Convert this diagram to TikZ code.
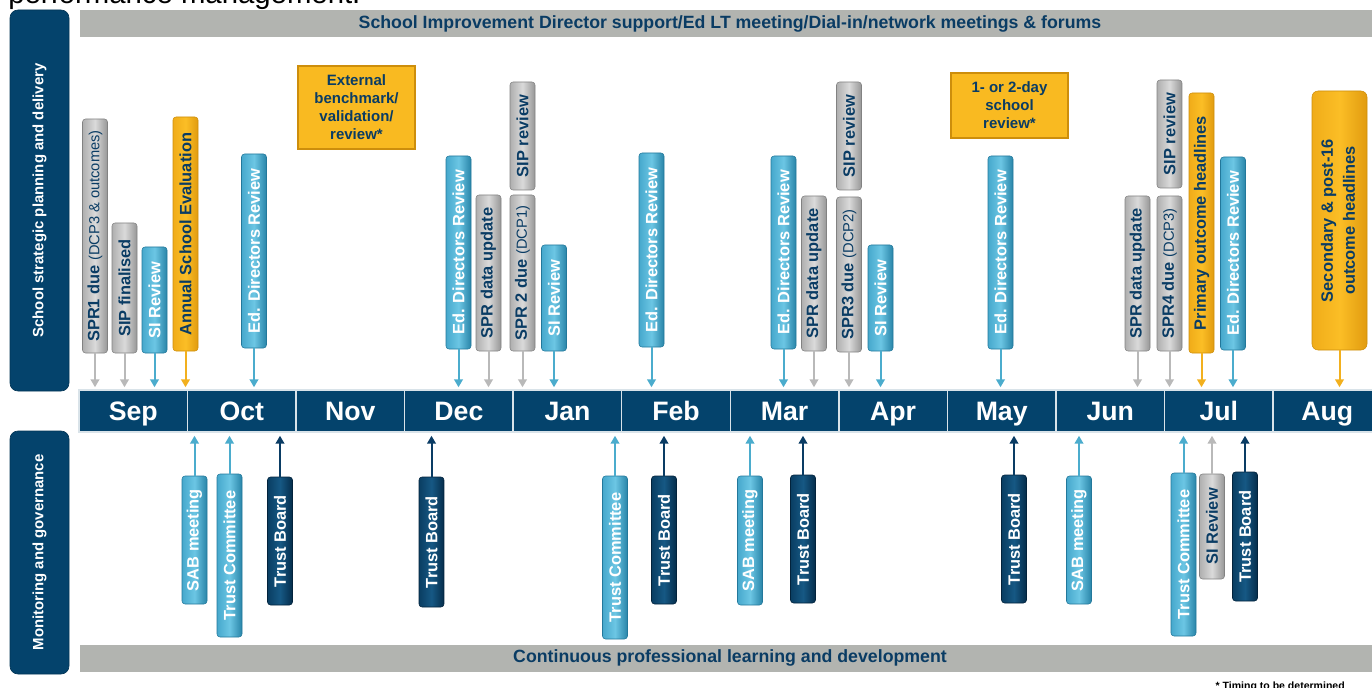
\documentclass[tikz,border=0pt]{standalone}
\usepackage{fontspec}
\setmainfont{Liberation Sans}
\usetikzlibrary{arrows.meta}
\definecolor{navy}{RGB}{4,67,108}
\definecolor{txt}{RGB}{10,60,100}
\definecolor{barg}{RGB}{178,180,176}
\definecolor{gyL}{RGB}{175,175,175}
\definecolor{gyM}{RGB}{218,218,218}
\definecolor{gyR}{RGB}{150,150,150}
\definecolor{gyD}{RGB}{130,130,130}
\definecolor{lbL}{RGB}{70,168,204}
\definecolor{lbM}{RGB}{108,198,228}
\definecolor{lbR}{RGB}{40,132,168}
\definecolor{lbD}{RGB}{35,120,155}
\definecolor{yeL}{RGB}{240,172,25}
\definecolor{yeM}{RGB}{251,190,38}
\definecolor{yeR}{RGB}{225,155,15}
\definecolor{yeD}{RGB}{205,142,12}
\definecolor{yeF}{RGB}{249,186,33}
\definecolor{dkL}{RGB}{10,62,98}
\definecolor{dkM}{RGB}{22,88,132}
\definecolor{dkR}{RGB}{5,45,75}
\definecolor{dkD}{RGB}{3,35,60}
\definecolor{arG}{RGB}{185,185,185}
\definecolor{arB}{RGB}{75,172,205}
\definecolor{arY}{RGB}{242,176,30}
\definecolor{arD}{RGB}{10,60,100}
\tikzset{
  vbox/.style={rectangle, rounded corners=2.25pt, minimum width=18.75pt, inner sep=0pt,
    line width=0.4pt, font=\fontsize{12.3}{14}\selectfont\bfseries},
  greyb/.style={vbox, draw=gyD, left color=gyL, right color=gyR, middle color=gyM, text=txt},
  blueb/.style={vbox, draw=lbD, left color=lbL, right color=lbR, middle color=lbM, text=white},
  yelb/.style={vbox, draw=yeD, left color=yeL, right color=yeR, middle color=yeM, text=txt},
  darkb/.style={vbox, draw=dkD, left color=dkL, right color=dkR, middle color=dkM, text=white},
  yrect/.style={rectangle, draw=yeD, line width=1.5pt, fill=yeF, inner sep=0pt, align=center,
    text=txt, font=\fontsize{11.25}{13.5}\selectfont\bfseries},
  month/.style={rectangle, fill=navy, draw=white!85!navy, line width=1.1pt,
    minimum width=81.41pt, minimum height=31.5pt, inner sep=0pt, text=white,
    text height=14.3pt, text depth=0pt,
    font=\fontsize{20}{24}\selectfont\bfseries},
  panel/.style={rectangle, rounded corners=6pt, fill=navy, draw=navy!80!black, line width=0.5pt,
    minimum width=44.25pt, inner sep=0pt, text=white, font=\fontsize{11.2}{13}\selectfont\bfseries},
  gbar/.style={rectangle, fill=barg, inner sep=0pt, minimum width=975pt, text=txt,
    font=\fontsize{13.3}{16}\selectfont\bfseries},
  arr/.style={line width=1.5pt, -{Triangle[width=6.5pt,length=6pt]}},
  dn/.style={arr, shorten >=1.5pt},
  up/.style={arr, shorten >=2.25pt}
}
\newcommand{\rt}[1]{\rotatebox{90}{#1}}
\newcommand{\smp}{\fontsize{11}{12}\selectfont\mdseries}
\begin{document}
\begin{tikzpicture}[x=0.75pt,y=-0.75pt]
\useasboundingbox (0,0) rectangle (1372,688);

% title fragment and footnote
\node[anchor=base west, inner sep=0pt, font=\fontsize{22}{26}\selectfont] (title) at (8,4) {performance management.};
\node[anchor=base east, inner sep=0pt, font=\fontsize{7.9}{9}\selectfont\bfseries] (foot) at (1345,689.5) {* Timing to be determined};

% grey bars
\node[gbar, minimum height=20.25pt] (topbar) at (730,23.5) {School Improvement Director support/Ed LT meeting/Dial-in/network meetings \& forums};
\node[gbar, minimum height=20.6pt] (botbar) at (730,658.25) {Continuous professional learning and development};

% side panels
\node[panel, minimum height=285.75pt] (p1) at (39.5,200.5) {\rt{School strategic planning and delivery}};
\node[panel, minimum height=182.25pt] (p2) at (39.5,552.5) {\rt{Monitoring and governance}};

% months
\node[month] (sep) at (133.28,411) {Sep};
\node[month] (oct) at (241.83,411) {Oct};
\node[month] (nov) at (350.38,411) {Nov};
\node[month] (dec) at (458.93,411) {Dec};
\node[month] (jan) at (567.48,411) {Jan};
\node[month] (feb) at (676.03,411) {Feb};
\node[month] (mar) at (784.58,411) {Mar};
\node[month] (apr) at (893.13,411) {Apr};
\node[month] (may) at (1001.68,411) {May};
\node[month] (jun) at (1110.23,411) {Jun};
\node[month] (jul) at (1218.78,411) {Jul};
\node[month] (aug) at (1327.33,411) {Aug};

% ---- upper boxes ----
\node[greyb, minimum height=175.5pt] (spr1) at (95,236) {\rt{SPR1 due {\smp(DCP3 \& outcomes)}}};
\node[greyb, minimum height=97.5pt] (sipfin) at (124.5,288) {\rt{SIP finalised}};
\node[blueb, minimum height=79.5pt] (sirev1) at (154.5,300) {\rt{SI Review}};
\node[yelb, minimum height=175.5pt] (ase) at (185.5,234) {\rt{Annual School Evaluation}};
\node[blueb, minimum height=145.5pt] (edr1) at (254,251) {\rt{Ed. Directors Review}};
\node[yrect, minimum width=87.75pt, minimum height=62.25pt] (ext) at (356.5,107.5) {External\\benchmark/\\validation/\\review*};

\node[blueb, minimum height=144.75pt] (edr2) at (458.5,252.5) {\rt{Ed. Directors Review}};
\node[greyb, minimum height=117pt] (sprd1) at (488.5,273) {\rt{SPR data update}};
\node[greyb, minimum height=81pt] (sip1) at (522.5,136) {\rt{SIP review}};
\node[greyb, minimum height=117pt] (spr2) at (522.5,273) {\rt{SPR 2 due {\smp(DCP1)}}};
\node[blueb, minimum height=79.5pt] (sirev2) at (554,298) {\rt{SI Review}};
\node[blueb, minimum height=145.5pt] (edr3) at (651.5,250) {\rt{Ed. Directors Review}};

\node[blueb, minimum height=144.75pt] (edr4) at (783.5,252.5) {\rt{Ed. Directors Review}};
\node[greyb, minimum height=116.25pt] (sprd2) at (814,273.5) {\rt{SPR data update}};
\node[greyb, minimum height=81pt] (sip2) at (849,136) {\rt{SIP review}};
\node[greyb, minimum height=116.25pt] (spr3) at (849,274.5) {\rt{SPR3 due {\smp(DCP2)}}};
\node[blueb, minimum height=79.5pt] (sirev3) at (880.5,298) {\rt{SI Review}};

\node[yrect, minimum width=87.75pt, minimum height=48.75pt] (day) at (1009.5,105.5) {1- or 2-day\\school\\review*};
\node[blueb, minimum height=144.75pt] (edr5) at (1000.5,252.5) {\rt{Ed. Directors Review}};

\node[greyb, minimum height=116.25pt] (sprd3) at (1137.5,273.5) {\rt{SPR data update}};
\node[greyb, minimum height=81pt] (sip3) at (1169.5,134) {\rt{SIP review}};
\node[greyb, minimum height=116.25pt] (spr4) at (1169.5,273.5) {\rt{SPR4 due {\smp(DCP3)}}};
\node[yelb, minimum height=195pt] (prim) at (1201.5,223) {\rt{Primary outcome headlines}};
\node[blueb, minimum height=144.75pt] (edr6) at (1233,253.5) {\rt{Ed. Directors Review}};
\node[yelb, minimum width=41.25pt, minimum height=194.25pt, rounded corners=4.5pt] (sec) at (1339.5,220.5)
  {\rt{\fontsize{12.3}{16.5}\selectfont\begin{tabular}{@{}c@{}}Secondary \& post-16\\outcome headlines\end{tabular}}};

% upper arrows
\draw[dn, arG] (spr1.south) -- (spr1.south |- sep.north);
\draw[dn, arG] (sipfin.south) -- (sipfin.south |- sep.north);
\draw[dn, arB] (sirev1.south) -- (sirev1.south |- sep.north);
\draw[dn, arY] (ase.south) -- (ase.south |- sep.north);
\draw[dn, arB] (edr1.south) -- (edr1.south |- oct.north);
\draw[dn, arB] (edr2.south) -- (edr2.south |- dec.north);
\draw[dn, arG] (sprd1.south) -- (sprd1.south |- dec.north);
\draw[dn, arG] (spr2.south) -- (spr2.south |- jan.north);
\draw[dn, arB] (sirev2.south) -- (sirev2.south |- jan.north);
\draw[dn, arB] (edr3.south) -- (edr3.south |- feb.north);
\draw[dn, arB] (edr4.south) -- (edr4.south |- mar.north);
\draw[dn, arG] (sprd2.south) -- (sprd2.south |- mar.north);
\draw[dn, arG] (spr3.south) -- (spr3.south |- apr.north);
\draw[dn, arB] (sirev3.south) -- (sirev3.south |- apr.north);
\draw[dn, arB] (edr5.south) -- (edr5.south |- may.north);
\draw[dn, arG] (sprd3.south) -- (sprd3.south |- jun.north);
\draw[dn, arG] (spr4.south) -- (spr4.south |- jul.north);
\draw[dn, arY] (prim.south) -- (prim.south |- jul.north);
\draw[dn, arB] (edr6.south) -- (edr6.south |- jul.north);
\draw[dn, arY] (sec.south) -- (sec.south |- aug.north);

% ---- lower boxes ----
\node[blueb, minimum height=96pt] (sab1) at (194.5,540) {\rt{SAB meeting}};
\node[blueb, minimum height=122.25pt] (tc1) at (229.5,555.5) {\rt{Trust Committee}};
\node[darkb, minimum height=96pt] (tb1) at (280,541) {\rt{Trust Board}};
\node[darkb, minimum height=97.5pt] (tb2) at (431.5,542) {\rt{Trust Board}};
\node[blueb, minimum height=122.25pt] (tc2) at (615,557.5) {\rt{Trust Committee}};
\node[darkb, minimum height=96pt] (tb3) at (664,540) {\rt{Trust Board}};
\node[blueb, minimum height=96.75pt] (sab2) at (750,540.5) {\rt{SAB meeting}};
\node[darkb, minimum height=96pt] (tb4) at (803,539) {\rt{Trust Board}};
\node[darkb, minimum height=96pt] (tb5) at (1014,539) {\rt{Trust Board}};
\node[blueb, minimum height=96pt] (sab3) at (1079,540) {\rt{SAB meeting}};
\node[blueb, minimum height=122.25pt] (tc3) at (1183.5,554.5) {\rt{Trust Committee}};
\node[greyb, minimum height=78.75pt] (sirev4) at (1212,526.5) {\rt{SI Review}};
\node[darkb, minimum height=96.75pt] (tb6) at (1245,536.5) {\rt{Trust Board}};

% lower arrows
\draw[up, arB] (sab1.north) -- (sab1.north |- oct.south);
\draw[up, arB] (tc1.north) -- (tc1.north |- oct.south);
\draw[up, arD] (tb1.north) -- (tb1.north |- oct.south);
\draw[up, arD] (tb2.north) -- (tb2.north |- dec.south);
\draw[up, arB] (tc2.north) -- (tc2.north |- jan.south);
\draw[up, arD] (tb3.north) -- (tb3.north |- feb.south);
\draw[up, arB] (sab2.north) -- (sab2.north |- mar.south);
\draw[up, arD] (tb4.north) -- (tb4.north |- mar.south);
\draw[up, arD] (tb5.north) -- (tb5.north |- may.south);
\draw[up, arB] (sab3.north) -- (sab3.north |- jun.south);
\draw[up, arB] (tc3.north) -- (tc3.north |- jul.south);
\draw[up, arG] (sirev4.north) -- (sirev4.north |- jul.south);
\draw[up, arD] (tb6.north) -- (tb6.north |- jul.south);
\end{tikzpicture}
\end{document}
